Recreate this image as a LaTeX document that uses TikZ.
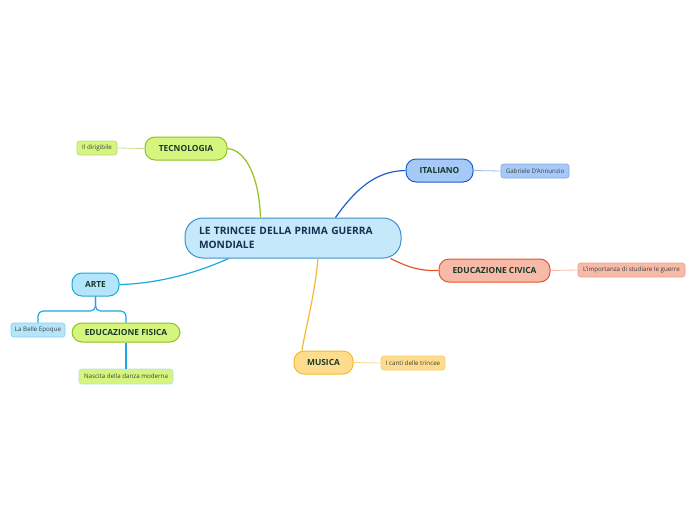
\documentclass[tikz,border=0pt]{standalone}
\usepackage{fontspec}
\setmainfont{Open Sans}
\definecolor{cfill}{HTML}{C5E9FB}
\definecolor{cdraw}{HTML}{3C8FCB}
\definecolor{ctext}{HTML}{16304F}
\definecolor{ttext}{HTML}{173A2A}
\definecolor{gfill}{HTML}{D6F57F}
\definecolor{gdraw}{HTML}{8DC21F}
\definecolor{bfill}{HTML}{A7C9F8}
\definecolor{bdraw}{HTML}{1F5FCB}
\definecolor{rfill}{HTML}{F7B9A8}
\definecolor{rdraw}{HTML}{E8542A}
\definecolor{ofill}{HTML}{FDDC8E}
\definecolor{odraw}{HTML}{F5B930}
\definecolor{afill}{HTML}{B3E6FA}
\definecolor{adraw}{HTML}{1BA8E0}
\begin{document}
\begin{tikzpicture}[x=1pt,y=-1pt,
  main/.style={draw, line width=1pt, rounded corners=10pt, inner sep=0pt,
    minimum height=23pt, font=\bfseries\fontsize{8.4}{10}\selectfont, text=ttext},
  sub/.style={draw, line width=0.6pt, rounded corners=2.5pt, inner sep=0pt,
    minimum height=14pt, font=\fontsize{6.2}{7}\selectfont, text=black!75},
  link/.style={line width=1.2pt},
  thin/.style={line width=0.8pt}]
\useasboundingbox (0,0) rectangle (696,520);
% central
\node[draw=cdraw, fill=cfill, line width=1pt, rounded corners=18pt, minimum width=216pt,
  minimum height=40pt, text width=188pt, inner xsep=14pt, inner ysep=0pt, align=left,
  font=\bfseries\fontsize{10.2}{14}\selectfont, text=ctext] (c) at (293,238)
  {LE TRINCEE DELLA PRIMA GUERRA\\MONDIALE};
% main topics
\node[main, fill=gfill, draw=gdraw, minimum width=82pt] (tec) at (186,148.5) {TECNOLOGIA};
\node[main, fill=bfill, draw=bdraw, minimum width=67pt] (ita) at (439.5,170.5) {ITALIANO};
\node[main, fill=rfill, draw=rdraw, minimum width=111pt] (civ) at (494.5,270.5) {EDUCAZIONE CIVICA};
\node[main, fill=ofill, draw=odraw, minimum width=59pt] (mus) at (323.5,362.5) {MUSICA};
\node[main, fill=afill, draw=adraw, minimum width=47pt] (arte) at (95.5,284.5) {ARTE};
\node[main, fill=gfill, draw=gdraw, minimum width=108pt, minimum height=19pt] (fis) at (126,332.5) {EDUCAZIONE FISICA};
% subtopics
\node[sub, fill=gfill, draw=gdraw!60, minimum width=40pt] (dir) at (97,148) {Il dirigibile};
\node[sub, fill=bfill, draw=bdraw!55, minimum width=68pt] (gab) at (535,171) {Gabriele D'Annunzio};
\node[sub, fill=rfill, draw=rdraw!55, minimum width=107pt] (imp) at (631.5,270) {L'importanza di studiare le guerre};
\node[sub, fill=ofill, draw=odraw!70, minimum width=64pt] (can) at (413,363) {I canti delle trincee};
\node[sub, fill=afill, draw=adraw!55, minimum width=54pt] (bel) at (38,330) {La Belle Epoque};
\node[sub, fill=gfill, draw=adraw!35, minimum width=94pt, minimum height=15pt] (nas) at (126,376.5) {Nascita della danza moderna};
% main connectors
\draw[link, gdraw] ([xshift=76pt]c.north west) .. controls (259,175) and (245,150) .. (tec.east);
\draw[link, bdraw] ([xshift=151pt]c.north west) .. controls (355,190) and (375,171) .. (ita.west);
\draw[link, rdraw] ([xshift=-11pt]c.south east) .. controls (410,268) and (420,271) .. (civ.west);
\draw[link, odraw] ([xshift=25pt]c.south) .. controls (314,300) and (305,330) .. ([xshift=-21.5pt]mus.north);
\draw[link, adraw] ([xshift=44pt]c.south west) .. controls (190,276) and (150,284) .. (arte.east);
% sub connectors
\draw[thin, gdraw!50] (tec.west) -- (dir.east);
\draw[thin, bdraw!45] (ita.east) -- (gab.west);
\draw[thin, rdraw!40] (civ.east) -- (imp.west);
\draw[thin, odraw!55] (mus.east) -- (can.west);
\draw[link, adraw, rounded corners=5pt] (arte.south) -- (95.5,311) -| (bel.north);
\draw[link, adraw, rounded corners=5pt] (arte.south) -- (95.5,311) -| (fis.north);
\draw[link, adraw] (fis.south) -- (nas.north);
\end{tikzpicture}
\end{document}
